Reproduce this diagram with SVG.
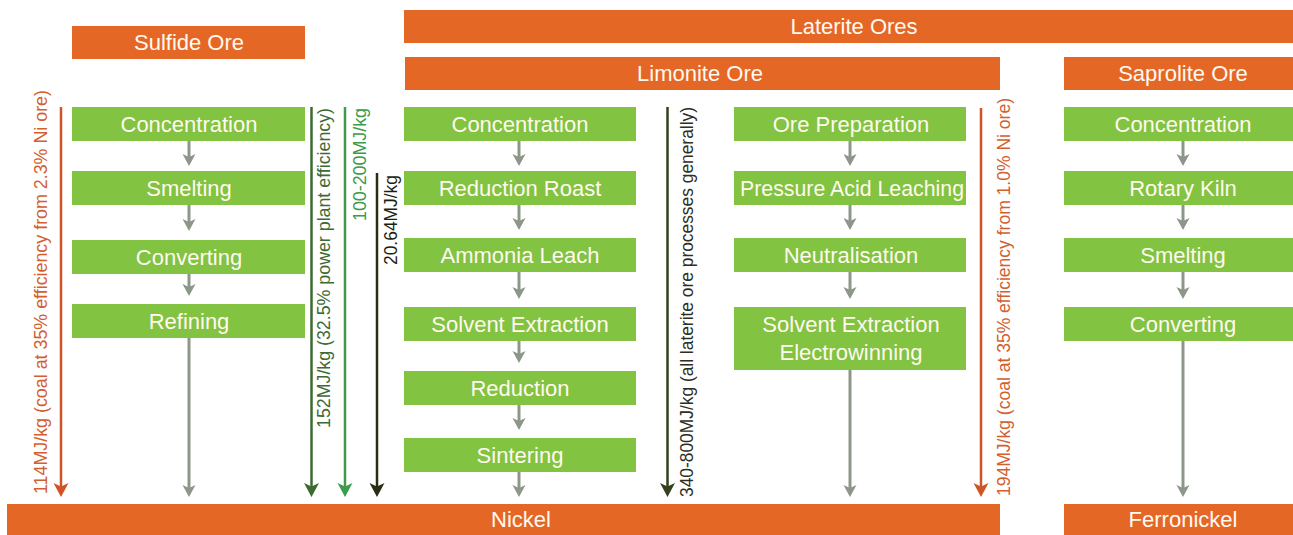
<svg xmlns="http://www.w3.org/2000/svg" width="1293" height="535" viewBox="0 0 1293 535">
<style>
.ore{fill:#E56726}
.step{fill:#82C341}
.lbl{font-family:"Liberation Sans",Arial,sans-serif;font-size:22px;fill:#FFF9F0;text-anchor:middle}
.vt{font-family:"Liberation Sans",Arial,sans-serif;font-size:18px}
.flow{stroke:#8C9689;stroke-width:3;fill:none}
.side{stroke-width:2.5;fill:none}
</style>
<defs>
<marker id="mGray" markerUnits="userSpaceOnUse" markerWidth="13" markerHeight="13" refX="4" refY="6.5" orient="auto" overflow="visible"><path d="M0,0 L12,6.5 L0,13 L3,6.5 z" fill="#8C9689"/></marker>
<marker id="mOrange" markerUnits="userSpaceOnUse" markerWidth="15" markerHeight="15" refX="5" refY="7.5" orient="auto" overflow="visible"><path d="M0,0 L14,7.5 L0,15 L3.5,7.5 z" fill="#CF5526"/></marker>
<marker id="mDkGreen" markerUnits="userSpaceOnUse" markerWidth="15" markerHeight="15" refX="5" refY="7.5" orient="auto" overflow="visible"><path d="M0,0 L14,7.5 L0,15 L3.5,7.5 z" fill="#3D6A32"/></marker>
<marker id="mGreen" markerUnits="userSpaceOnUse" markerWidth="15" markerHeight="15" refX="5" refY="7.5" orient="auto" overflow="visible"><path d="M0,0 L14,7.5 L0,15 L3.5,7.5 z" fill="#3D9B49"/></marker>
<marker id="mBlack" markerUnits="userSpaceOnUse" markerWidth="15" markerHeight="15" refX="5" refY="7.5" orient="auto" overflow="visible"><path d="M0,0 L14,7.5 L0,15 L3.5,7.5 z" fill="#2A2D13"/></marker>
<marker id="mOlive" markerUnits="userSpaceOnUse" markerWidth="15" markerHeight="15" refX="5" refY="7.5" orient="auto" overflow="visible"><path d="M0,0 L14,7.5 L0,15 L3.5,7.5 z" fill="#353E1E"/></marker>
</defs>
<rect width="1293" height="535" fill="#FFFFFF"/>

<!-- ore headers -->
<g id="sulfide-ore"><rect class="ore" x="72" y="26" width="233" height="33"/><text class="lbl" x="189" y="50">Sulfide Ore</text></g>
<g id="laterite-ores"><rect class="ore" x="404" y="10" width="889" height="33"/><text class="lbl" x="854" y="34">Laterite Ores</text></g>
<g id="limonite-ore"><rect class="ore" x="405" y="57" width="595" height="33"/><text class="lbl" x="700" y="81">Limonite Ore</text></g>
<g id="saprolite-ore"><rect class="ore" x="1064" y="57" width="229" height="33"/><text class="lbl" x="1183" y="81">Saprolite Ore</text></g>

<!-- sulfide column -->
<g id="s-concentration"><rect class="step" x="72" y="107" width="233" height="34"/><text class="lbl" x="189" y="132">Concentration</text></g>
<g id="s-smelting"><rect class="step" x="72" y="171" width="233" height="34"/><text class="lbl" x="189" y="196">Smelting</text></g>
<g id="s-converting"><rect class="step" x="72" y="240" width="233" height="34"/><text class="lbl" x="189" y="265">Converting</text></g>
<g id="s-refining"><rect class="step" x="72" y="304" width="233" height="34"/><text class="lbl" x="189" y="329">Refining</text></g>

<!-- limonite column 1 -->
<g id="l1-concentration"><rect class="step" x="404" y="107" width="232" height="34"/><text class="lbl" x="520" y="132">Concentration</text></g>
<g id="l1-reduction-roast"><rect class="step" x="404" y="171" width="232" height="34"/><text class="lbl" x="520" y="196">Reduction Roast</text></g>
<g id="l1-ammonia-leach"><rect class="step" x="404" y="238" width="232" height="34"/><text class="lbl" x="520" y="263">Ammonia Leach</text></g>
<g id="l1-solvent-extraction"><rect class="step" x="404" y="307" width="232" height="34"/><text class="lbl" x="520" y="332">Solvent Extraction</text></g>
<g id="l1-reduction"><rect class="step" x="404" y="371" width="232" height="34"/><text class="lbl" x="520" y="396">Reduction</text></g>
<g id="l1-sintering"><rect class="step" x="404" y="438" width="232" height="34"/><text class="lbl" x="520" y="463">Sintering</text></g>

<!-- limonite column 2 -->
<g id="l2-ore-preparation"><rect class="step" x="734" y="107" width="232" height="34"/><text class="lbl" x="851" y="132">Ore Preparation</text></g>
<g id="l2-pal"><rect class="step" x="734" y="171" width="232" height="34"/><text class="lbl" x="852" y="196" textLength="224" lengthAdjust="spacingAndGlyphs">Pressure Acid Leaching</text></g>
<g id="l2-neutralisation"><rect class="step" x="734" y="238" width="232" height="34"/><text class="lbl" x="851" y="263">Neutralisation</text></g>
<g id="l2-sx-ew"><rect class="step" x="734" y="307" width="232" height="63"/><text class="lbl" x="851" y="332">Solvent Extraction</text><text class="lbl" x="851" y="360">Electrowinning</text></g>

<!-- saprolite column -->
<g id="sp-concentration"><rect class="step" x="1064" y="107" width="229" height="34"/><text class="lbl" x="1183" y="132">Concentration</text></g>
<g id="sp-rotary-kiln"><rect class="step" x="1064" y="171" width="229" height="34"/><text class="lbl" x="1183" y="196">Rotary Kiln</text></g>
<g id="sp-smelting"><rect class="step" x="1064" y="238" width="229" height="34"/><text class="lbl" x="1183" y="263">Smelting</text></g>
<g id="sp-converting"><rect class="step" x="1064" y="307" width="229" height="34"/><text class="lbl" x="1183" y="332">Converting</text></g>

<!-- products -->
<g id="nickel"><rect class="ore" x="7" y="504" width="993" height="31"/><text class="lbl" x="521" y="527">Nickel</text></g>
<g id="ferronickel"><rect class="ore" x="1064" y="504" width="229" height="31"/><text class="lbl" x="1183" y="527">Ferronickel</text></g>

<!-- connectors -->
<g id="connectors">
<g class="flow" marker-end="url(#mGray)">
<line x1="189" y1="141" x2="189" y2="158"/>
<line x1="189" y1="205" x2="189" y2="223"/>
<line x1="189" y1="274" x2="189" y2="288"/>
<line x1="189" y1="338" x2="189" y2="489"/>
<line x1="519" y1="141" x2="519" y2="158"/>
<line x1="519" y1="205" x2="519" y2="222"/>
<line x1="519" y1="272" x2="519" y2="291"/>
<line x1="519" y1="341" x2="519" y2="355"/>
<line x1="519" y1="405" x2="519" y2="422"/>
<line x1="519" y1="472" x2="519" y2="489"/>
<line x1="850" y1="141" x2="850" y2="158"/>
<line x1="850" y1="205" x2="850" y2="222"/>
<line x1="850" y1="272" x2="850" y2="291"/>
<line x1="850" y1="370" x2="850" y2="489"/>
<line x1="1183" y1="141" x2="1183" y2="158"/>
<line x1="1183" y1="205" x2="1183" y2="222"/>
<line x1="1183" y1="272" x2="1183" y2="291"/>
<line x1="1183" y1="341" x2="1183" y2="489"/>
</g>
<line class="side" x1="61" y1="107" x2="61" y2="488" stroke="#CF5526" marker-end="url(#mOrange)"/>
<line class="side" x1="311.5" y1="107" x2="311.5" y2="488" stroke="#3D6A32" marker-end="url(#mDkGreen)"/>
<line class="side" x1="345" y1="107" x2="345" y2="488" stroke="#3D9B49" marker-end="url(#mGreen)"/>
<line class="side" x1="377" y1="173" x2="377" y2="488" stroke="#2A2D13" marker-end="url(#mBlack)"/>
<line class="side" x1="667.5" y1="107" x2="667.5" y2="488" stroke="#353E1E" marker-end="url(#mOlive)"/>
<line class="side" x1="981" y1="108" x2="981" y2="488" stroke="#CF5526" marker-end="url(#mOrange)"/>
<text class="vt" fill="#D2602E" transform="translate(47,494) rotate(-90)" textLength="404" lengthAdjust="spacingAndGlyphs">114MJ/kg (coal at 35% efficiency from 2.3% Ni ore)</text>
<text class="vt" fill="#3D6A32" transform="translate(330,428) rotate(-90)" textLength="320" lengthAdjust="spacingAndGlyphs">152MJ/kg (32.5% power plant efficiency)</text>
<text class="vt" fill="#3D9B49" transform="translate(366,221) rotate(-90)" textLength="113" lengthAdjust="spacingAndGlyphs">100-200MJ/kg</text>
<text class="vt" fill="#1E1E10" transform="translate(397,265) rotate(-90)" textLength="90" lengthAdjust="spacingAndGlyphs">20.64MJ/kg</text>
<text class="vt" fill="#2E2E22" transform="translate(693,497) rotate(-90)" textLength="390" lengthAdjust="spacingAndGlyphs">340-800MJ/kg (all laterite ore processes generally)</text>
<text class="vt" fill="#D2602E" transform="translate(1010,496) rotate(-90)" textLength="398" lengthAdjust="spacingAndGlyphs">194MJ/kg (coal at 35% efficiency from 1.0% Ni ore)</text>
</g>
</svg>
